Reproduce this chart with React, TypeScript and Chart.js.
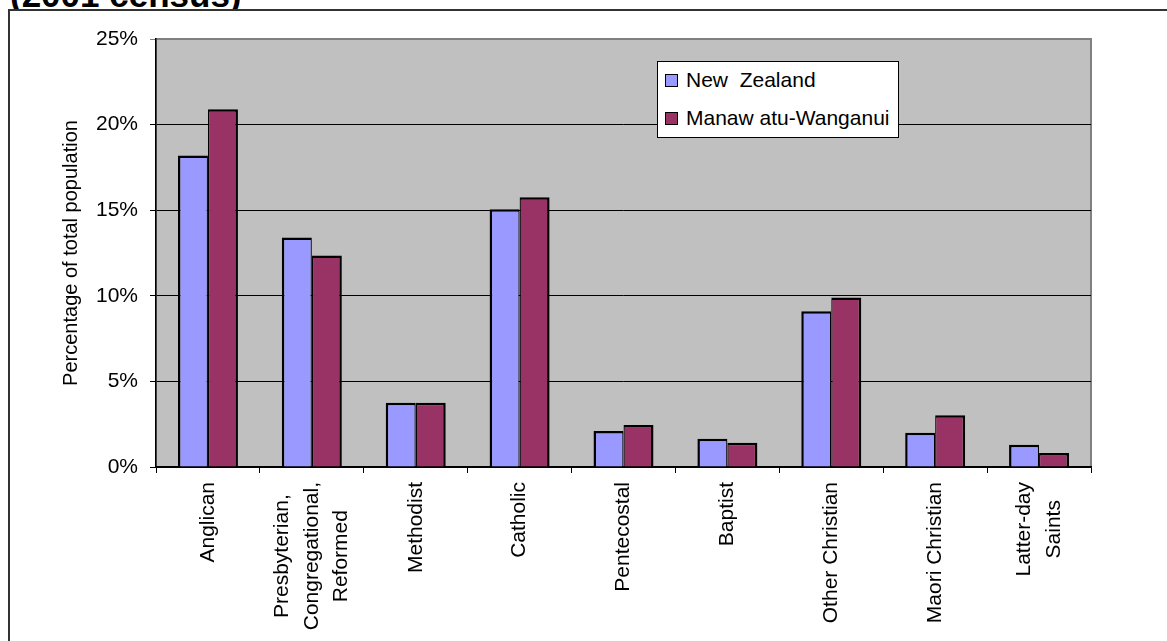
import React, { useEffect, useRef } from 'react';
import { Chart, registerables } from 'chart.js';

Chart.register(...registerables);

// ---- data ----
const TITLE = '(2001 census)';
const Y_TITLE = 'Percentage of total population';
const CATEGORIES: string[][] = [
  ['Anglican'],
  ['Presbyterian,', 'Congregational,', 'Reformed'],
  ['Methodist'],
  ['Catholic'],
  ['Pentecostal'],
  ['Baptist'],
  ['Other Christian'],
  ['Maori Christian'],
  ['Latter-day', 'Saints'],
];
const SERIES_LABELS = ['New  Zealand', 'Manaw atu-Wanganui'];
const NZ_VALUES = [18.2, 13.4, 3.75, 15.05, 2.1, 1.65, 9.1, 2.0, 1.3];
const MW_VALUES = [20.9, 12.35, 3.75, 15.75, 2.45, 1.42, 9.9, 3.03, 0.82];
const SERIES_COLORS = ['#9999FF', '#993366'];
const Y_MIN = 0;
const Y_MAX = 25;
const Y_STEP = 5;

const FONT = '"Liberation Sans", Arial, sans-serif';

const bgPlugin = {
  id: 'plotBg',
  beforeDraw(chart: any) {
    const { ctx, chartArea } = chart;
    const { left, top, right, bottom } = chartArea;
    ctx.save();
    ctx.fillStyle = '#C0C0C0';
    ctx.fillRect(left, top, right - left, bottom - top);
    ctx.strokeStyle = '#808080';
    ctx.lineWidth = 2;
    ctx.strokeRect(left, top, right - left, bottom - top);
    ctx.restore();
  },
};

const xLabelPlugin = {
  id: 'xLabels',
  afterDraw(chart: any) {
    const { ctx } = chart;
    const xs = chart.scales.x;
    const topY = chart.chartArea.bottom + 15;
    const lh = 29.5;
    ctx.save();
    ctx.font = `21px ${FONT}`;
    ctx.fillStyle = '#000';
    ctx.textAlign = 'center';
    ctx.textBaseline = 'middle';
    const labels = chart.data.labels as string[][];
    labels.forEach((lines, i) => {
      const cx = xs.getPixelForValue(i);
      const w = Math.max(...lines.map((l) => ctx.measureText(l).width));
      const n = lines.length;
      lines.forEach((line, k) => {
        ctx.save();
        ctx.translate(cx + (k - (n - 1) / 2) * lh, topY + w / 2);
        ctx.rotate(-Math.PI / 2);
        ctx.fillText(line, 0, 0);
        ctx.restore();
      });
    });
    ctx.restore();
  },
};

export default function App() {
  const canvasRef = useRef<HTMLCanvasElement | null>(null);

  useEffect(() => {
    const canvas = canvasRef.current;
    if (!canvas) return;
    const chart = new Chart(canvas, {
      type: 'bar',
      data: {
        labels: CATEGORIES,
        datasets: [
          {
            label: SERIES_LABELS[0],
            data: NZ_VALUES,
            backgroundColor: SERIES_COLORS[0],
            borderColor: '#000',
            borderWidth: { top: 2.5, left: 2.5, right: 1.25, bottom: 0 },
            borderSkipped: false,
            inflateAmount: 0,
          },
          {
            label: SERIES_LABELS[1],
            data: MW_VALUES,
            backgroundColor: SERIES_COLORS[1],
            borderColor: '#000',
            borderWidth: { top: 2.5, left: 1.25, right: 2.5, bottom: 0 },
            borderSkipped: false,
            inflateAmount: 0,
          },
        ],
      },
      options: {
        animation: false,
        responsive: false,
        maintainAspectRatio: false,
        layout: { padding: { top: 39, right: 76, left: 0, bottom: 0 } },
        datasets: { bar: { categoryPercentage: 0.5775, barPercentage: 1 } },
        plugins: {
          legend: { display: false },
          tooltip: { enabled: false },
          title: { display: false },
        },
        scales: {
          x: {
            type: 'category',
            offset: true,
            grid: {
              display: true,
              drawOnChartArea: false,
              drawTicks: true,
              tickLength: 6,
              color: '#000',
              offset: true,
            },
            border: { display: true, color: '#000', width: 1.5 },
            ticks: { display: false },
            afterFit: (s: any) => {
              s.height = 174;
            },
          },
          y: {
            min: Y_MIN,
            max: Y_MAX,
            ticks: {
              stepSize: Y_STEP,
              callback: (v: any) => `${v}%`,
              font: { family: FONT, size: 21 },
              color: '#000',
              padding: 12,
            },
            grid: {
              color: (c: any) => (c.tick && c.tick.value === Y_MAX ? '#808080' : '#000'),
              tickLength: 6,
              lineWidth: 1,
            },
            border: { display: true, color: '#000', width: 1.5 },
            title: {
              display: true,
              text: Y_TITLE,
              color: '#000',
              font: { family: FONT, size: 20 },
              padding: { top: 59, bottom: 0 },
            },
            afterFit: (s: any) => {
              s.width = 156;
            },
          },
        },
      } as any,
      plugins: [bgPlugin, xLabelPlugin],
    });
    return () => chart.destroy();
  }, []);

  return (
    <div
      style={{
        position: 'fixed',
        left: 0,
        top: 0,
        width: 1167,
        height: 641,
        overflow: 'hidden',
        background: '#fff',
      }}
    >
      <div
        style={{
          position: 'absolute',
          left: 10,
          top: -23,
          font: `bold 35px ${FONT}`,
          lineHeight: '35px',
          whiteSpace: 'nowrap',
          color: '#000',
        }}
      >
        {TITLE}
      </div>
      <div
        style={{
          position: 'absolute',
          left: 8,
          top: 9,
          width: 1200,
          height: 700,
          border: '2px solid #333',
          background: '#fff',
        }}
      />
      <canvas
        ref={canvasRef}
        width={1167}
        height={641}
        style={{ position: 'absolute', left: 0, top: 0, width: 1167, height: 641 }}
      />
      <div
        style={{
          position: 'absolute',
          left: 657,
          top: 61,
          width: 242,
          height: 77,
          boxSizing: 'border-box',
          border: '1px solid #000',
          background: '#fff',
        }}
      >
        {SERIES_LABELS.map((label, i) => (
          <div
            key={label}
            style={{
              position: 'absolute',
              left: 7,
              top: 6 + i * 38,
              height: 24,
              display: 'flex',
              alignItems: 'center',
              font: `21px ${FONT}`,
              whiteSpace: 'pre',
              color: '#000',
            }}
          >
            <span
              style={{
                display: 'inline-block',
                width: 13,
                height: 13,
                boxSizing: 'border-box',
                border: '1.5px solid #000',
                background: SERIES_COLORS[i],
                marginRight: 8,
              }}
            />
            {label}
          </div>
        ))}
      </div>
    </div>
  );
}
